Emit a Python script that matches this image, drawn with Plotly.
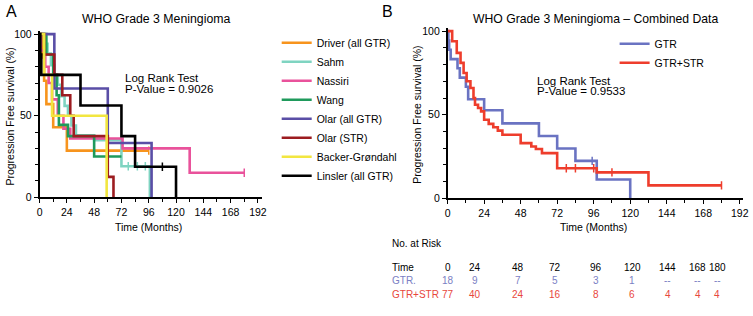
import plotly.graph_objects as go
import bisect

# ---------------- Panel A data (time in months, survival %) ----------------
studies = ["Driver (all GTR)", "Sahm", "Nassiri", "Wang", "Olar (all GTR)",
           "Olar (STR)", "Backer-Grøndahl", "Linsler (all GTR)"]
colors_a = ["#f7941d", "#7fd4c1", "#e9529b", "#1f9a5c", "#5a4ea6",
            "#9c1c20", "#f2e640", "#000000"]

driver_t = [0, 2, 4, 6, 12, 24]
driver_s = [100, 85.7, 71.4, 57.1, 42.9, 28.6]
driver_end = 96

sahm_t = [0, 4, 7, 10, 13, 16, 19, 22, 25, 28, 32, 48, 72, 97]
sahm_s = [100, 94, 88, 81, 75, 69, 62, 56, 50, 44, 38, 35, 19, 0]
sahm_end = 97

nassiri_t = [0, 1, 5, 8, 11, 16, 21, 27, 73, 132]
nassiri_s = [100, 90, 80, 70, 60, 50, 42, 36, 30, 15]
nassiri_end = 180

wang_t = [0, 6, 12, 15, 17, 25, 48]
wang_s = [100, 87.5, 75, 62.5, 44.4, 37.5, 25]
wang_end = 72

olar_gtr_t = [0, 13, 60, 98.5]
olar_gtr_s = [100, 66.7, 33.3, 0]
olar_gtr_end = 98.5

olar_str_t = [0, 4, 13, 20, 27, 30, 60, 65]
olar_str_s = [100, 87.5, 75, 62.5, 50, 37.5, 12.5, 0]
olar_str_end = 65

backer_t = [0, 4, 11, 59]
backer_s = [100, 75, 50, 0]
backer_end = 59

linsler_t = [0, 0.7, 1.5, 36, 72, 84, 120]
linsler_s = [100, 87.5, 75, 56.25, 37.5, 18.75, 0]
linsler_end = 120

series_a = [
    (driver_t, driver_s, driver_end, [96]),
    (sahm_t, sahm_s, sahm_end, [78, 86, 93]),
    (nassiri_t, nassiri_s, nassiri_end, [180]),
    (wang_t, wang_s, wang_end, []),
    (olar_gtr_t, olar_gtr_s, olar_gtr_end, []),
    (olar_str_t, olar_str_s, olar_str_end, []),
    (backer_t, backer_s, backer_end, []),
    (linsler_t, linsler_s, linsler_end, [108]),
]

# ---------------- Panel B data ----------------
gtr_t = [0, 0.5, 1, 2, 6.5, 8, 12, 13.5, 24, 36, 60, 72, 84, 98, 120]
gtr_s = [100, 94.4, 88.9, 83.3, 77.8, 72.2, 66.7, 59.3, 52.7, 44.8, 37.3,
         29.8, 22.4, 11.2, 0]
gtr_end = 120
gtr_cens = [95]

comb_t = [0, 3, 6, 8.5, 10.5, 12.5, 15, 17, 18, 20, 22, 24, 27, 30, 33, 36,
          48, 55, 58, 62, 72, 98, 132]
comb_s = [100, 94, 87, 81, 75, 70, 66, 60, 56, 54, 52, 47, 44.5, 42.5, 40.5,
          38, 33, 31, 29.5, 27, 18, 15.5, 7.7]
comb_end = 180
comb_cens = [78, 84, 96, 108, 180]

# ---------------- Risk table ----------------
risk_times = ["0", "24", "48", "72", "96", "120", "144", "168", "180"]
risk_gtr = ["18", "9", "7", "5", "3", "1", "--", "--", "--"]
risk_comb = ["77", "40", "24", "16", "8", "6", "4", "4", "4"]

W, H = 753, 316


def step_xy(t, s, end):
    x = list(t) + ([end] if end > t[-1] else [])
    y = list(s) + ([s[-1]] if end > t[-1] else [])
    return x, y


def surv_at(t, s, time):
    i = bisect.bisect_right(t, time) - 1
    return s[max(i, 0)]


fig = go.Figure()
FONT = "Liberation Sans, Arial, Helvetica, sans-serif"

for name, col, (t, s, end, cens) in zip(studies, colors_a, series_a):
    x, y = step_xy(t, s, end)
    fig.add_trace(go.Scatter(x=x, y=y, mode="lines", line_shape="hv",
                             line=dict(color=col, width=2.6), name=name,
                             xaxis="x", yaxis="y", legend="legend"))
    if cens:
        fig.add_trace(go.Scatter(
            x=cens, y=[surv_at(t, s, c) for c in cens], mode="markers",
            marker=dict(symbol="line-ns", size=6, line=dict(color=col, width=1.5)),
            showlegend=False, xaxis="x", yaxis="y"))

for name, col, (t, s, end, cens) in zip(
        ["GTR", "GTR+STR"], ["#6a73c2", "#ee3d2c"],
        [(gtr_t, gtr_s, gtr_end, gtr_cens), (comb_t, comb_s, comb_end, comb_cens)]):
    x, y = step_xy(t, s, end)
    fig.add_trace(go.Scatter(x=x, y=y, mode="lines", line_shape="hv",
                             line=dict(color=col, width=2.6), name=name,
                             xaxis="x2", yaxis="y2", legend="legend2"))
    fig.add_trace(go.Scatter(
        x=cens, y=[surv_at(t, s, c) for c in cens], mode="markers",
        marker=dict(symbol="line-ns", size=6, line=dict(color=col, width=1.5)),
        showlegend=False, xaxis="x2", yaxis="y2"))


def xaxis_cfg(x0, x1, rmax):
    return dict(domain=[x0 / W, x1 / W], range=[0, rmax], tickvals=list(range(0, 193, 24)),
                showline=True, linecolor="black", linewidth=1.5, ticks="outside",
                ticklen=4, tickwidth=1.2, tickcolor="black", showgrid=False,
                zeroline=False, tickfont=dict(size=10.5, color="black"),
                minor=dict(dtick=12, ticks="outside", ticklen=3, tickcolor="black"))


def yaxis_cfg(ytop, ybot):
    return dict(domain=[(H - ybot) / H, (H - ytop) / H], range=[0, 102],
                tickvals=[0, 50, 100], showline=True, linecolor="black",
                linewidth=1.5, ticks="outside", ticklen=4, tickwidth=1.2,
                tickcolor="black", showgrid=False, zeroline=False,
                tickfont=dict(size=10.5, color="black"),
                minor=dict(dtick=10, ticks="outside", ticklen=3, tickcolor="black"))


# Panel A: 0 at x=37, 1.151 px/month ; y: 100 at 32, 0 at 200
ya_top = 32 - 2 * 1.68
yb_top = 29 - 2 * 1.72
fig.update_layout(
    width=W, height=H, margin=dict(l=0, r=0, t=0, b=0),
    paper_bgcolor="white", plot_bgcolor="white",
    font=dict(family=FONT, color="black", size=11),
    xaxis=xaxis_cfg(37, 37 + 1.151 * 196, 196),
    yaxis=dict(yaxis_cfg(ya_top, 200), anchor="x"),
    xaxis2=dict(xaxis_cfg(450, 450 + 1.54 * 194, 194), anchor="y2"),
    yaxis2=dict(yaxis_cfg(yb_top, 201), anchor="x2"),
    legend=dict(x=277 / W, y=1 - 26 / H, xanchor="left", yanchor="top",
                font=dict(size=10.5), bgcolor="rgba(0,0,0,0)",
                itemwidth=30, tracegroupgap=0),
    legend2=dict(x=619 / W, y=1 - 27 / H, xanchor="left", yanchor="top",
                 font=dict(size=10.5), bgcolor="rgba(0,0,0,0)", itemwidth=30),
)

ann = []


def txt(x, y, s, size=10.5, color="black", xanchor="left", angle=0):
    ann.append(dict(x=x / W, y=1 - y / H, xref="paper", yref="paper", text=s,
                    showarrow=False, xanchor=xanchor, yanchor="middle",
                    font=dict(size=size, color=color, family=FONT), textangle=angle))


txt(1, 9, "A", size=16)
txt(382, 9, "B", size=16)
txt(155, 16, "WHO Grade 3 Meningioma", size=12.3, xanchor="center")
txt(600, 16, "WHO Grade 3 Meningioma – Combined Data", size=12.2, xanchor="center")
txt(121, 77, "Log Rank Test", size=11.5)
txt(121, 89, "P-Value = 0.9026", size=11.5)
txt(538, 80, "Log Rank Test", size=11.5)
txt(538, 91, "P-Value = 0.9533", size=11.5)
txt(147, 231, "Time (Months)", size=10.5, xanchor="center")
txt(598, 231, "Time (Months)", size=10.5, xanchor="center")
txt(7, 117, "Progression Free survival (%)", size=10.5, xanchor="center", angle=-90)
txt(419, 115, "Progression Free survival (%)", size=10.5, xanchor="center", angle=-90)

# Risk table
col_x = [450, 478, 521, 559, 600, 637, 673, 703, 723]
RS = 10
txt(392, 248, "No. at Risk", size=RS)
txt(392, 272, "Time", size=RS)
txt(392, 286, "GTR.", size=RS, color="#7a80c4")
txt(392, 300, "GTR+STR", size=RS, color="#e8473c")
for cx, a, b, c in zip(col_x, risk_times, risk_gtr, risk_comb):
    txt(cx, 272, a, size=RS, xanchor="center")
    txt(cx, 286, b, size=RS, xanchor="center", color="#7a80c4")
    txt(cx, 300, c, size=RS, xanchor="center", color="#e8473c")

fig.update_layout(annotations=ann)
fig.write_html("out.html", config={"displayModeBar": False},
               post_script="document.body.style.margin='0';document.body.style.overflow='hidden';")
